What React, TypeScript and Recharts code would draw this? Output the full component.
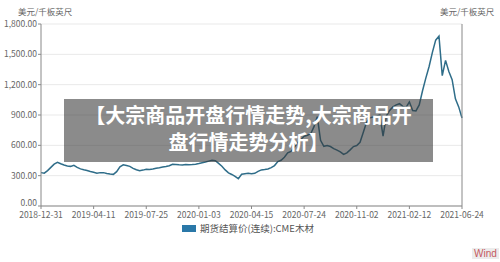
import React from "react";
import { LineChart, Line, XAxis, YAxis, CartesianGrid, Legend } from "recharts";

// x 轴刻度（每 16 个点一个刻度）
const tickLabels = [
  "2018-12-31",
  "2019-04-11",
  "2019-07-25",
  "2020-01-03",
  "2020-04-15",
  "2020-07-24",
  "2020-11-02",
  "2021-02-12",
  "2021-06-24",
];

const yTicks = [0, 300, 600, 900, 1200, 1500, 1800];

// 期货结算价(连续):CME木材  美元/千板英尺
const price = [
  330, 325, 350, 382, 414, 432, 418, 405, 396, 392, 402, 382, 367, 358, 352, 342,
  334, 324, 330, 330, 321, 316, 313, 340, 388, 408, 400, 392, 372, 358, 349, 355,
  363, 362, 367, 374, 379, 385, 391, 398, 412, 410, 407, 405, 410, 409, 410, 414,
  420, 428, 435, 444, 452, 448, 422, 393, 357, 328, 312, 294, 270, 314, 320, 323,
  320, 323, 342, 357, 361, 366, 380, 400, 440, 452, 482, 525, 540, 580, 626, 658,
  690, 700, 715, 785, 883, 650, 590, 598, 588, 568, 552, 535, 510, 525, 555, 588,
  598, 630, 730, 830, 872, 880, 888, 900, 690, 890, 945, 980, 1000, 1012, 985, 975,
  1030, 945, 940, 1000, 1140, 1265, 1380, 1520, 1640, 1680, 1290, 1440, 1330, 1250, 1060, 980,
  870,
];

const STEP = 16;
const data = price.map((v, i) => ({ i, v }));
const xTicks = tickLabels.map((_, k) => k * STEP);

const font = '"Noto Sans CJK SC", "Noto Sans", sans-serif';
const fmt = (v: number) =>
  v.toLocaleString("en-US", { minimumFractionDigits: 2, maximumFractionDigits: 2 });

const tickStyle = { fontSize: 8.5, fill: "#666", fontFamily: font };

// y 轴刻度：0.00 稍微上移，避免压住日期
const YTick = (props: any) => {
  const { x, y, payload, textAnchor } = props;
  const shift = payload.value === 0 ? -3 : 0;
  return (
    <text
      x={x}
      y={y + shift}
      dy="0.355em"
      textAnchor={textAnchor}
      fontSize={8.5}
      fill="#666"
      fontFamily={font}
    >
      {fmt(payload.value)}
    </text>
  );
};

const LegendBox = () => (
  <div
    style={{
      position: "absolute",
      left: 182,
      top: 221,
      display: "flex",
      alignItems: "center",
      fontFamily: font,
      fontSize: 9.5,
      color: "#555",
    }}
  >
    <span style={{ width: 14, height: 7, background: "#2a78a8", marginRight: 4 }} />
    <span>期货结算价(连续):CME木材</span>
  </div>
);

export default function App() {
  return (
    <div
      style={{
        position: "absolute",
        left: 0,
        top: 0,
        width: 500,
        height: 262,
        background: "#fff",
        overflow: "hidden",
        fontFamily: font,
      }}
    >
      <div style={{ position: "absolute", left: 18, top: 5, fontSize: 8.5, color: "#666" }}>
        美元/千板英尺
      </div>
      <div style={{ position: "absolute", left: 440, top: 5, fontSize: 8.5, color: "#666" }}>
        美元/千板英尺
      </div>
      <LineChart
        width={500}
        height={262}
        data={data}
        margin={{ top: 24, right: 0, bottom: 36, left: 0 }}
      >
        <CartesianGrid vertical={false} stroke="#e9e9e9" yAxisId="left" />
        <XAxis
          dataKey="i"
          type="number"
          domain={[0, 128]}
          ticks={xTicks}
          tickFormatter={(v: number) => tickLabels[Math.round(v / STEP)]}
          tick={tickStyle}
          tickSize={3}
          tickMargin={3}
          stroke="#888"
          height={20}
          interval={0}
        />
        <YAxis
          yAxisId="left"
          domain={[0, 1800]}
          ticks={yTicks}
          tick={<YTick />}
          tickSize={3}
          tickMargin={1}
          stroke="#888"
          width={41}
        />
        <YAxis
          yAxisId="right"
          orientation="right"
          domain={[0, 1800]}
          ticks={yTicks}
          tick={<YTick />}
          tickSize={3}
          tickMargin={1}
          stroke="#888"
          width={38}
        />
        <Legend content={() => null} />
        <Line
          yAxisId="left"
          type="linear"
          dataKey="v"
          stroke="#2f6d89"
          strokeWidth={1.5}
          dot={false}
          isAnimationActive={false}
        />
      </LineChart>
      <LegendBox />
      <div
        style={{
          position: "absolute",
          left: 472,
          top: 248,
          fontSize: 10,
          color: "#c45a5e",
          background: "#ececec",
          padding: "0 2px",
          lineHeight: "11px",
          fontFamily: "Liberation Sans, sans-serif",
        }}
      >
        Wind
      </div>
      <div
        style={{
          position: "absolute",
          left: 64,
          top: 99,
          width: 369,
          height: 63,
          background: "rgba(55,55,55,0.58)",
          color: "#fff",
          fontWeight: 700,
          fontSize: 20,
          lineHeight: "27px",
          textAlign: "center",
          paddingTop: 2,
          boxSizing: "border-box",
          whiteSpace: "nowrap",
        }}
      >
        【大宗商品开盘行情走势,大宗商品开
        <br />
        盘行情走势分析】
      </div>
    </div>
  );
}
